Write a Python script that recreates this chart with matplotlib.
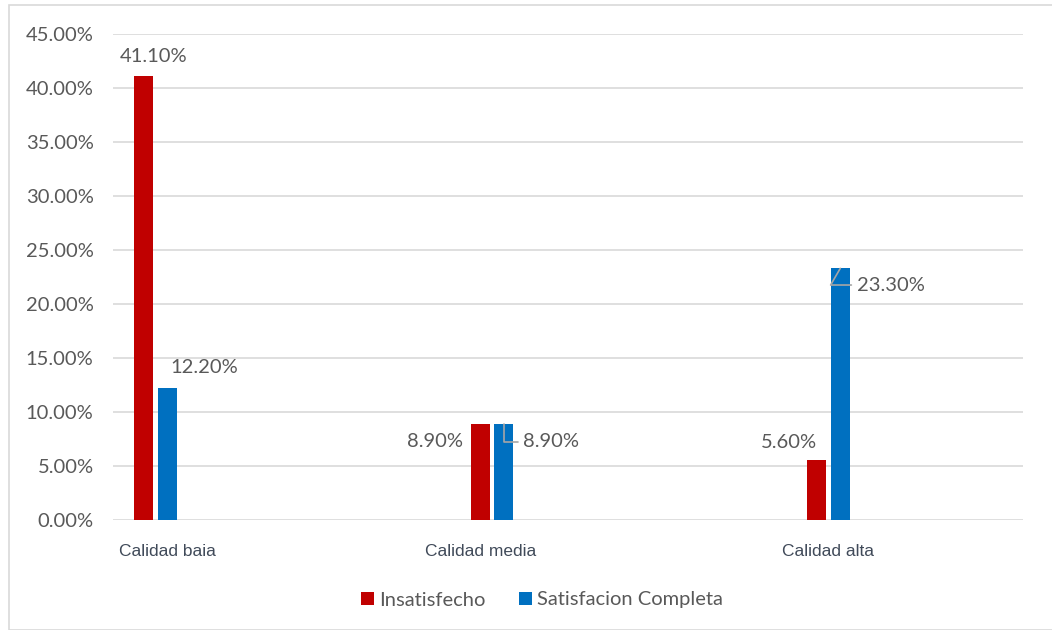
import matplotlib
matplotlib.use('Agg')
import matplotlib.pyplot as plt
from matplotlib.patches import Rectangle
from matplotlib.transforms import Bbox, TransformedBbox
import numpy as np

categorias = ['Calidad baja', 'Calidad media', 'Calidad alta']
insatisfecho = [41.10, 8.90, 5.60]
satisfaccion = [12.20, 8.90, 23.30]
series = ['Insatisfecho', 'Satisfacion Completa']
yticks = [0, 5, 10, 15, 20, 25, 30, 35, 40, 45]

ROJO = '#C00000'
AZUL = '#0070C0'
GRIS_TXT = '#595959'
FS = 14.5

fig = plt.figure(figsize=(10.52, 6.3), dpi=100)
W, H = 1052, 630
ax = fig.add_axes([113 / W, 1 - 520 / H, (1023 - 113) / W, (520 - 34) / H])

x = np.arange(len(categorias))
ancho = 0.056
b1 = ax.bar(x - 0.035, insatisfecho, ancho, color=ROJO, label=series[0], zorder=3)
b2 = ax.bar(x + 0.035, satisfaccion, ancho, color=AZUL, label=series[1], zorder=3)

ax.set_xlim(-0.126, 2.578)
ax.set_ylim(0, 45)
ax.set_yticks(yticks)
ax.set_yticklabels([f'{v:.2f}%' for v in yticks], fontsize=FS, color=GRIS_TXT, family='Lato')
ax.tick_params(axis='y', length=0, pad=14)
ax.set_xticks([])
ax.grid(axis='y', color='#d9d9d9', linewidth=1.2, zorder=0)
for s in ax.spines.values():
    s.set_visible(False)

# etiquetas de categoria (recortadas abajo como en el original)
recorte = TransformedBbox(Bbox([[0, 1 - 556 / H], [1, 1]]), fig.transFigure)
desp = [9, -8, 0]
for xi, cat, d in zip(x, categorias, desp):
    t = ax.annotate(cat, (xi, 0), xytext=(d, -23), textcoords='offset points',
                    ha='center', va='center', fontsize=12.5, color='#404a59',
                    family='Liberation Sans', annotation_clip=False)
    t.set_clip_on(True)
    t.set_clip_box(recorte)

lbl = dict(fontsize=FS, color=GRIS_TXT, family='Lato', textcoords='offset points')
guia = dict(arrowstyle='-', color='#a6a6a6', lw=1.2, shrinkA=2, shrinkB=0)

# Calidad baja
ax.annotate(f'{insatisfecho[0]:.2f}%', (x[0] - 0.035, insatisfecho[0]), xytext=(7, 14),
            ha='center', va='center', **lbl)
ax.annotate(f'{satisfaccion[0]:.2f}%', (x[0] + 0.035, satisfaccion[0]), xytext=(27, 15),
            ha='center', va='center', **lbl)
# Calidad media
ax.annotate(f'{insatisfecho[1]:.2f}%', (x[1] - 0.035, insatisfecho[1]), xytext=(-12, -13),
            ha='right', va='center', **lbl)
ax.annotate(f'{satisfaccion[1]:.2f}%', (x[1] + 0.035, satisfaccion[1]), xytext=(14, -13),
            ha='left', va='center', arrowprops=dict(connectionstyle='angle,angleA=0,angleB=90,rad=0', **guia),
            **lbl)
# Calidad alta
ax.annotate(f'{insatisfecho[2]:.2f}%', (x[2] - 0.035, insatisfecho[2]), xytext=(-20, 12),
            ha='center', va='center', **lbl)
ax.annotate(f'{satisfaccion[2]:.2f}%', (x[2] + 0.035, satisfaccion[2]), xytext=(12, -12),
            ha='left', va='center', arrowprops=dict(connectionstyle='angle,angleA=0,angleB=60,rad=0', **guia),
            **lbl)

leg = fig.legend(handles=[b1, b2], labels=series, loc='center', bbox_to_anchor=(542 / W, 1 - 600 / H),
                 ncol=2, frameon=False, handlelength=0.65, handleheight=0.65, handletextpad=0.25,
                 columnspacing=1.7, prop={'family': 'Lato', 'size': 14.5})
for t in leg.get_texts():
    t.set_color(GRIS_TXT)

fig.patches.append(Rectangle((9 / W, 0), 1.2, 1 - 5 / H, transform=fig.transFigure,
                             fill=False, edgecolor='#d9d9d9', linewidth=1.2))

fig.savefig('out.png', dpi=100)
